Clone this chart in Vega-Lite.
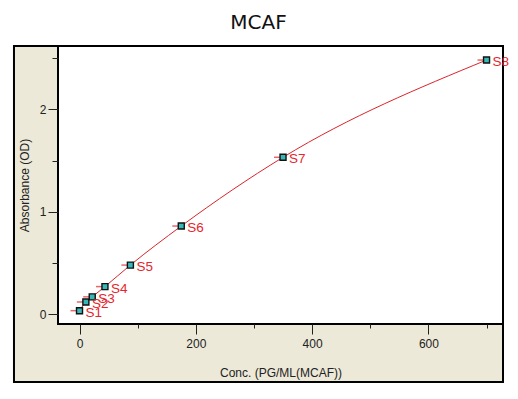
{
  "$schema": "https://vega.github.io/schema/vega-lite/v6.json",
  "width": 445,
  "height": 278,
  "autosize": "none",
  "padding": {"left": 58, "top": 46, "right": 15, "bottom": 75},
  "background": "white",
  "title": {"text": "MCAF", "font": "DejaVu Sans", "fontSize": 20, "fontWeight": "normal", "color": "#111", "anchor": "middle", "dx": -22, "offset": 12},
  "config": {
    "view": {"stroke": null},
    "axis": {"labelFont": "Liberation Sans", "labelFontSize": 12, "labelColor": "#222", "titleFont": "Liberation Sans", "titleFontSize": 12, "titleFontWeight": "normal", "titleColor": "#222", "domain": false, "grid": false, "tickColor": "#222"}
  },
  "datasets": {
    "standards": [
      {"std": "S1", "conc": 0, "od": 0.035},
      {"std": "S2", "conc": 10.94, "od": 0.12},
      {"std": "S3", "conc": 21.88, "od": 0.17},
      {"std": "S4", "conc": 43.75, "od": 0.27},
      {"std": "S5", "conc": 87.5, "od": 0.48},
      {"std": "S6", "conc": 175, "od": 0.861},
      {"std": "S7", "conc": 350, "od": 1.532},
      {"std": "S8", "conc": 700, "od": 2.481}
    ],
    "frames": [
      {"part": "panel", "x0": -112.7, "x1": 728.3, "y0": -0.66, "y1": 2.618},
      {"part": "plot", "x0": -37, "x1": 728.3, "y0": -0.095, "y1": 2.618}
    ]
  },
  "layer": [
    {
      "data": {"name": "frames"},
      "mark": {"type": "rect", "stroke": "black", "strokeWidth": 2},
      "encoding": {
        "x": {"field": "x0", "type": "quantitative", "scale": {"domain": [-37, 728.3], "nice": false, "zero": false},
          "axis": {"zindex": 2, "title": "Conc. (PG/ML(MCAF))", "values": [0, 100, 200, 300, 400, 500, 600, 700], "labelExpr": "datum.value % 200 === 0 ? format(datum.value, 'd') : ''", "tickSize": {"expr": "datum.value % 200 === 0 ? 10 : 4"}, "labelPadding": 4, "titlePadding": 18}},
        "x2": {"field": "x1"},
        "y": {"field": "y0", "type": "quantitative", "scale": {"domain": [-0.095, 2.618], "nice": false, "zero": false},
          "axis": {"zindex": 2, "title": "Absorbance (OD)", "values": [0, 0.5, 1, 1.5, 2, 2.5], "labelExpr": "datum.value % 1 === 0 ? format(datum.value, 'd') : ''", "tickSize": {"expr": "datum.value % 1 === 0 ? 10 : 6"}, "labelPadding": 2, "titlePadding": 8}},
        "y2": {"field": "y1"},
        "fill": {"field": "part", "type": "nominal", "scale": {"domain": ["panel", "plot"], "range": ["#ECE9D8", "#FFFFFF"]}, "legend": null},
        "order": {"field": "part"}
      }
    },
    {
      "data": {"name": "standards"},
      "encoding": {
        "x": {"field": "conc", "type": "quantitative"},
        "y": {"field": "od", "type": "quantitative"}
      },
      "layer": [
        {"mark": {"type": "line", "color": "#d9252b", "strokeWidth": 1, "interpolate": "monotone"}},
        {"mark": {"type": "tick", "orient": "horizontal", "color": "#e0262d", "size": 10, "thickness": 1.5, "xOffset": -4}},
        {"mark": {"type": "square", "size": 36, "fill": "#36b8b8", "stroke": "#111", "strokeWidth": 1.4, "opacity": 1}},
        {
          "mark": {"type": "text", "align": "left", "baseline": "middle", "dx": 6, "dy": 2, "font": "Liberation Sans", "fontSize": 13.5, "color": "#e4262d"},
          "encoding": {"text": {"field": "std"}}
        }
      ]
    }
  ]
}
